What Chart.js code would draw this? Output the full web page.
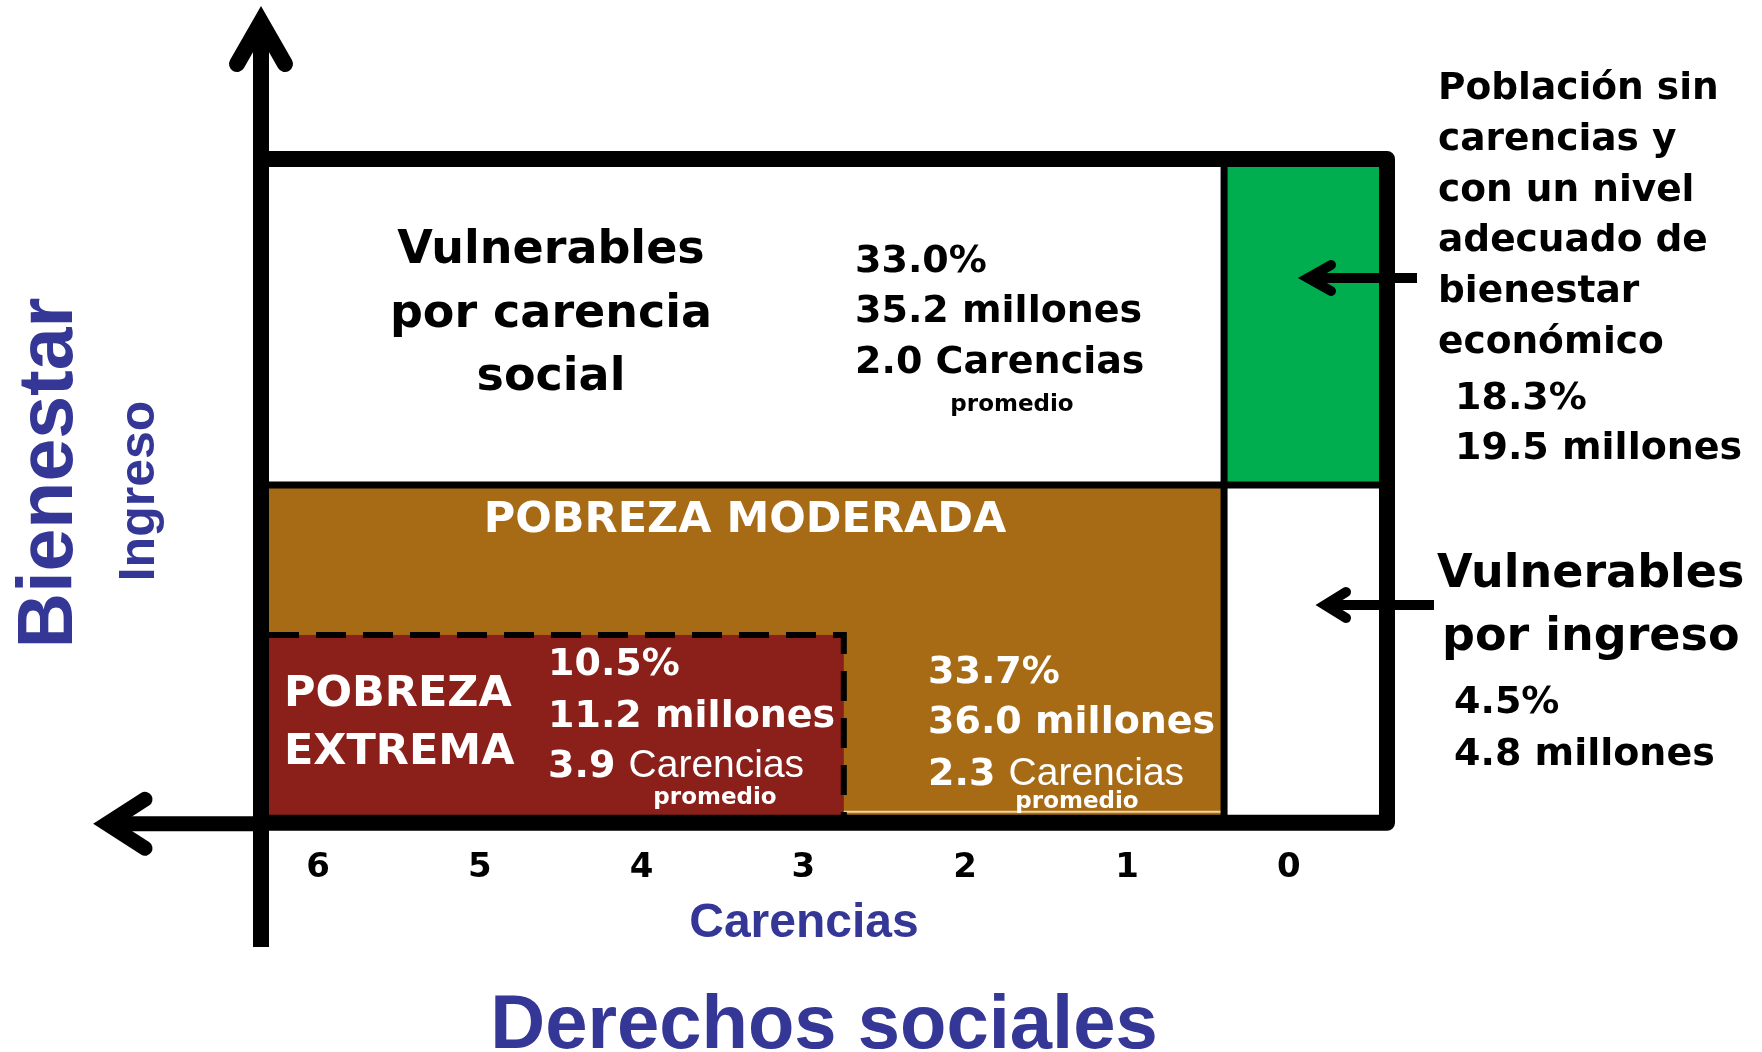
<!DOCTYPE html>
<html>
<head>
<meta charset="utf-8">
<script src="https://cdn.jsdelivr.net/npm/chart.js@4.4.1/dist/chart.umd.min.js"></script>
<style>
  html, body { margin: 0; padding: 0; background: #ffffff; }
  #wrap { width: 1762px; height: 1052px; }
</style>
</head>
<body>
<div id="wrap"><canvas id="c" width="1762" height="1052"></canvas></div>
<script>
// ---------------- data ----------------
const carenciasTicks = [0, 1, 2, 3, 4, 5, 6];
const groups = [
  'Vulnerables por carencia social',
  'Población sin carencias y con un nivel adecuado de bienestar económico',
  'Pobreza moderada',
  'Vulnerables por ingreso',
  'Pobreza extrema'
];
const percentages = [33.0, 18.3, 33.7, 4.5, 10.5];
const millions = [35.2, 19.5, 36.0, 4.8, 11.2];
const avgCarencias = [2.0, null, 2.3, null, 3.9];
// extent of every cell on the carencias axis (x) and the bienestar axis (y)
const cellCarFrom = [6.352, 0.40, 6.352, 0.40, 6.352];
const cellCarTo = [0.40, -0.607, 0.40, -0.607, 2.75];
const cellBienFrom = [50.9, 50.9, 0, 0, 0];
const cellBienTo = [100, 100, 50.9, 50.9, 28.3];

// ---------------- styles ----------------
const BLUE = '#353797';
const cellFill = ['#ffffff', '#00AE50', '#A86B15', '#ffffff', '#8B1F1A'];
const DV = 'DejaVu Sans';
const LS = 'Liberation Sans';

function txt(ctx, s, x, y, o) {
  o = o || {};
  ctx.save();
  ctx.font = (o.weight || 'bold') + ' ' + (o.size || 38) + 'px "' + (o.family || DV) + '"';
  ctx.fillStyle = o.color || '#000';
  ctx.textAlign = o.align || 'left';
  ctx.textBaseline = 'alphabetic';
  ctx.fillText(s, x, y);
  const w = ctx.measureText(s).width;
  ctx.restore();
  return w;
}
function line(ctx, pts, w, opts) {
  opts = opts || {};
  ctx.save();
  ctx.beginPath();
  ctx.moveTo(pts[0][0], pts[0][1]);
  for (let i = 1; i < pts.length; i++) ctx.lineTo(pts[i][0], pts[i][1]);
  ctx.lineWidth = w;
  ctx.strokeStyle = opts.color || '#000';
  ctx.lineCap = opts.cap || 'butt';
  ctx.lineJoin = opts.join || 'miter';
  if (opts.dash) ctx.setLineDash(opts.dash);
  ctx.stroke();
  ctx.restore();
}
const pct = v => v.toFixed(1) + '%';
const mil = v => v.toFixed(1) + ' millones';

const diagram = {
  id: 'diagram',
  afterDraw(chart) {
    const ctx = chart.ctx;
    const a = chart.chartArea;
    const xs = chart.scales.x, ys = chart.scales.y;
    const X = v => xs.getPixelForValue(v);
    const Y = v => ys.getPixelForValue(v);

    // cells
    for (let i = 0; i < groups.length; i++) {
      const x0 = X(cellCarFrom[i]), x1 = X(cellCarTo[i]);
      const y0 = Y(cellBienFrom[i]), y1 = Y(cellBienTo[i]);
      ctx.fillStyle = cellFill[i];
      ctx.fillRect(Math.min(x0, x1), Math.min(y0, y1), Math.abs(x1 - x0), Math.abs(y1 - y0));
    }
    // light line at bottom of moderate poverty
    line(ctx, [[X(cellCarTo[4]), Y(0) - 11], [X(cellCarTo[2]) - 3, Y(0) - 11]], 2, {color: '#EDD3A0'});
    // dashed border of extreme poverty
    line(ctx, [[a.left + 8, Y(cellBienTo[4])], [X(cellCarTo[4]), Y(cellBienTo[4])], [X(cellCarTo[4]), Y(0)]], 6,
      {dash: [30, 17], join: 'miter'});
    // dividers
    line(ctx, [[X(cellCarTo[0]), a.top], [X(cellCarTo[0]), a.bottom]], 7);
    line(ctx, [[a.left, Y(cellBienTo[2])], [a.right, Y(cellBienTo[2])]], 7);
    // box border
    line(ctx, [[a.left, a.top], [a.right, a.top], [a.right, a.bottom], [a.left, a.bottom]], 16, {join: 'round'});
    // vertical axis arrow
    line(ctx, [[a.left, 947], [a.left, 24]], 16);
    line(ctx, [[a.left - 24, 64], [a.left, 22], [a.left + 24, 64]], 16, {cap: 'round', join: 'miter'});
    // horizontal axis arrow
    line(ctx, [[a.left, a.bottom + 1], [110, a.bottom + 1]], 15);
    line(ctx, [[145, a.bottom - 23.5], [107, a.bottom + 1], [145, a.bottom + 25.5]], 15, {cap: 'round', join: 'miter'});

    // side arrows
    const yG = 278;
    line(ctx, [[1417, yG], [1310, yG]], 10);
    line(ctx, [[1331, yG - 13], [1308, yG], [1331, yG + 13]], 10, {cap: 'round'});
    const yW = 605;
    line(ctx, [[1434, yW], [1327, yW]], 10);
    line(ctx, [[1346, yW - 13], [1325, yW], [1346, yW + 13]], 10, {cap: 'round'});

    // ---- texts: vulnerable by social deprivation
    ['Vulnerables', 'por carencia', 'social'].forEach((s, k) =>
      txt(ctx, s, 551, 263 + k * 63.5, {size: 46, align: 'center'}));
    txt(ctx, pct(percentages[0]), 855, 272);
    txt(ctx, mil(millions[0]), 855, 322);
    txt(ctx, avgCarencias[0].toFixed(1) + ' Carencias', 855, 373);
    txt(ctx, 'promedio', 1012, 411, {size: 23, align: 'center'});

    // ---- moderate poverty
    txt(ctx, 'POBREZA MODERADA', 745, 532, {size: 43, color: '#fff', align: 'center'});
    txt(ctx, pct(percentages[2]), 928, 683, {color: '#fff'});
    txt(ctx, mil(millions[2]), 928, 733, {color: '#fff'});
    let w = txt(ctx, avgCarencias[2].toFixed(1) + ' ', 928, 785, {color: '#fff'});
    txt(ctx, 'Carencias', 928 + w, 785, {color: '#fff', weight: 'normal', family: LS, size: 39});
    txt(ctx, 'promedio', 1077, 808, {size: 23, align: 'center', color: '#fff'});

    // ---- extreme poverty
    txt(ctx, 'POBREZA', 284, 706, {size: 43, color: '#fff'});
    txt(ctx, 'EXTREMA', 284, 764, {size: 43, color: '#fff'});
    txt(ctx, pct(percentages[4]), 548, 675, {color: '#fff'});
    txt(ctx, mil(millions[4]), 548, 727, {color: '#fff'});
    w = txt(ctx, avgCarencias[4].toFixed(1) + ' ', 548, 777, {color: '#fff'});
    txt(ctx, 'Carencias', 548 + w, 777, {color: '#fff', weight: 'normal', family: LS, size: 39});
    txt(ctx, 'promedio', 715, 804, {size: 23, align: 'center', color: '#fff'});

    // ---- right panel
    ['Población sin', 'carencias y', 'con un nivel', 'adecuado de', 'bienestar', 'económico'].forEach((s, k) =>
      txt(ctx, s, 1438, 99 + k * 50.8, {size: 37.5}));
    txt(ctx, pct(percentages[1]), 1455, 409);
    txt(ctx, mil(millions[1]), 1455, 459);
    txt(ctx, 'Vulnerables', 1437, 587, {size: 46});
    txt(ctx, 'por ingreso', 1442, 650, {size: 46});
    txt(ctx, pct(percentages[3]), 1454, 713);
    txt(ctx, mil(millions[3]), 1454, 765);

    // ---- vertical axis titles
    ctx.save();
    ctx.fillStyle = BLUE;
    ctx.textAlign = 'center';
    ctx.textBaseline = 'alphabetic';
    ctx.translate(72, 473);
    ctx.rotate(-Math.PI / 2);
    ctx.font = 'bold 77px "' + LS + '"';
    ctx.fillText('Bienestar', 0, 0);
    ctx.restore();
    ctx.save();
    ctx.fillStyle = BLUE;
    ctx.textAlign = 'center';
    ctx.textBaseline = 'alphabetic';
    ctx.translate(154, 491);
    ctx.rotate(-Math.PI / 2);
    ctx.font = 'bold 50px "' + LS + '"';
    ctx.fillText('Ingreso', 0, 0);
    ctx.restore();
  }
};

new Chart(document.getElementById('c'), {
  type: 'scatter',
  data: { datasets: [] },
  options: {
    responsive: false,
    animation: false,
    devicePixelRatio: 1,
    layout: { padding: { left: 261, right: 375, top: 159, bottom: 0 } },
    plugins: {
      legend: { display: false },
      tooltip: { enabled: false },
      title: {
        display: true, position: 'bottom', text: 'Derechos sociales', color: BLUE,
        font: { family: LS, size: 76, weight: 'bold', lineHeight: 0.65 },
        padding: { top: 0, bottom: 0 }
      }
    },
    scales: {
      x: {
        type: 'linear', reverse: true, min: -0.607, max: 6.352,
        afterBuildTicks: s => { s.ticks = carenciasTicks.map(v => ({ value: v })); },
        afterFit: s => { s.height = 179.8; },
        grid: { display: false, drawTicks: false },
        border: { display: false },
        ticks: { color: '#000', font: { family: DV, size: 34, weight: 'bold' }, padding: 25, maxRotation: 0, autoSkip: false },
        title: {
          display: true, text: 'Carencias   ', color: BLUE,
          font: { family: LS, size: 48, weight: 'bold' }, padding: { top: 0, bottom: 50 }
        }
      },
      y: { type: 'linear', min: 0, max: 100, display: false }
    }
  },
  plugins: [diagram]
});
</script>
</body>
</html>
